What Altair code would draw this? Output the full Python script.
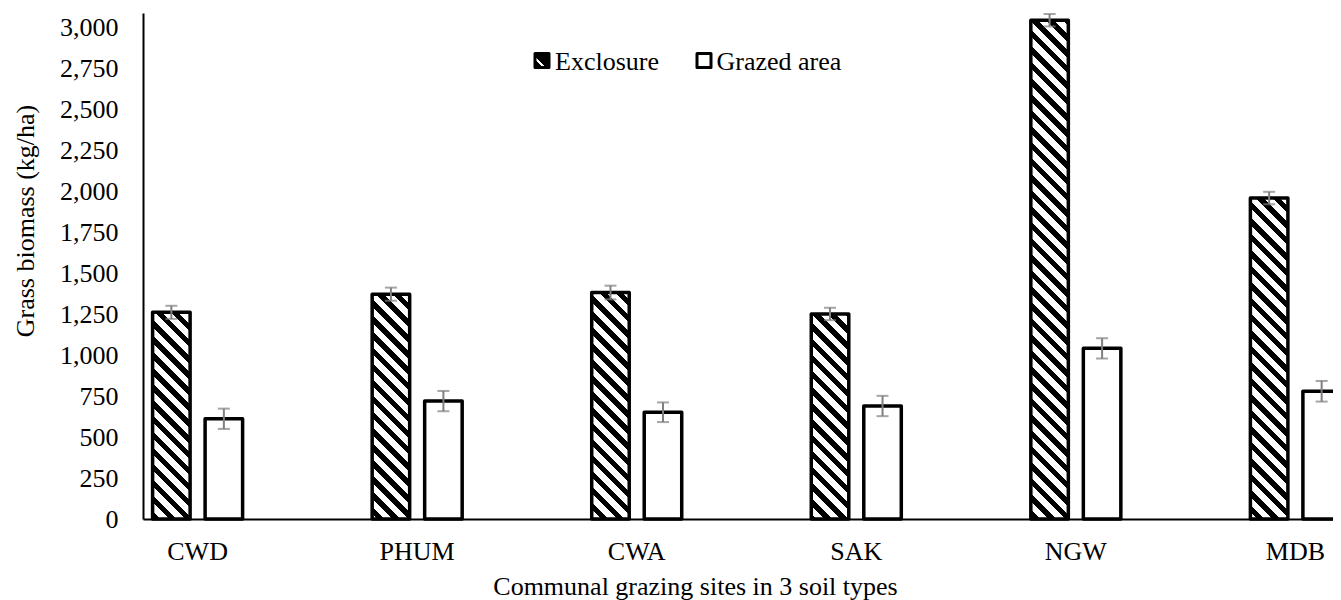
import math
import altair as alt
import pandas as pd

# ---------------- data ----------------
sites = ["CWD", "PHUM", "CWA", "SAK", "NGW", "MDB"]
series_names = ["Exclosure", "Grazed area"]
exclosure = [1262, 1373, 1383, 1252, 3046, 1960]
grazed = [612, 720, 652, 690, 1042, 780]
exclosure_err = [40, 40, 42, 38, 38, 38]
grazed_err = [62, 62, 60, 62, 62, 63]
y_ticks = list(range(0, 3001, 250))

rows = []
for i, s in enumerate(sites):
    rows.append({"site": s, "series": "Exclosure", "value": exclosure[i], "err": exclosure_err[i]})
    rows.append({"site": s, "series": "Grazed area", "value": grazed[i], "err": grazed_err[i]})
df = pd.DataFrame(rows)
df["lo"] = df["value"] - df["err"]
df["hi"] = df["value"] + df["err"]

# ---------------- layout / style ----------------
PLOT_W = 1207
PLOT_H = 506
Y_MAX = 3090
PAD_IN = 0.59
PAD_OUT = 0.0437
SUB_PAD = 0.2857
FONT = "Liberation Serif"
FS = 26
ERR_COLOR = "#7f7f7f"
SVG_W = 1325  # page is 1341 wide with an 8px body margin on both sides

step = PLOT_W / (len(sites) - PAD_IN + 2 * PAD_OUT)
band = step * (1 - PAD_IN)
sub_step = band / (2 - SUB_PAD)
bar_w = sub_step * (1 - SUB_PAD)
k = PLOT_H / Y_MAX

PERIOD = 16.0
BLACK = 0.45


def hatch(w, h, offset):
    """Diagonal (\\) stripe fill built from a hard-stop linear gradient."""
    L = w + h

    def color_at(s):
        return "black" if ((s + offset) % PERIOD) < BLACK * PERIOD else "white"

    bounds = []
    n0 = math.floor(offset / PERIOD) - 1
    n1 = math.ceil((L + offset) / PERIOD) + 1
    for n in range(n0, n1 + 1):
        for b in (n * PERIOD, n * PERIOD + BLACK * PERIOD):
            s = b - offset
            if 0 < s < L:
                bounds.append(s)
    bounds.sort()
    cur = color_at(0)
    stops = [{"offset": 0, "color": cur}]
    for s in bounds:
        t = round(s / L, 5)
        stops.append({"offset": t, "color": cur})
        cur = color_at(s + 1e-6)
        stops.append({"offset": t, "color": cur})
    stops.append({"offset": 1, "color": cur})
    c = L / (w * w + h * h)
    return {"gradient": "linear", "x1": 0, "y1": 1,
            "x2": round(c * w, 6), "y2": round(1 - c * h, 6), "stops": stops}


x_enc = alt.X(
    "site:N", sort=sites,
    scale=alt.Scale(domain=sites, paddingInner=PAD_IN, paddingOuter=PAD_OUT),
    title="Communal grazing sites in 3 soil types",
    axis=alt.Axis(labelAngle=0, labelPadding=19, ticks=False, tickSize=0,
                  titleX=552, titleY=75, titleBaseline="alphabetic", titleAlign="center"),
)
xoff = alt.XOffset("series:N", sort=series_names,
                   scale=alt.Scale(domain=series_names, paddingInner=SUB_PAD, paddingOuter=0))

Y_TITLE = "Grass biomass (kg/ha)"


def y_of(field):
    return alt.Y(
        f"{field}:Q",
        scale=alt.Scale(domain=[0, Y_MAX], nice=False, zero=True),
        title=Y_TITLE,
        axis=alt.Axis(values=y_ticks, format=",.0f", labelPadding=25, ticks=False, tickSize=0,
                      titleX=-110, titleY=207.5, titleBaseline="alphabetic", titleAlign="center"),
    )


base = alt.Chart(df)
layers = []

# hatched exclosure bars
for i, s in enumerate(sites):
    x0 = step * PAD_OUT + i * step
    h = exclosure[i] * k
    grad = hatch(bar_w, h, x0 - PLOT_H)
    layers.append(
        base.transform_filter(f"datum.site == '{s}' && datum.series == 'Exclosure'")
        .mark_bar(fill=grad, stroke="black", strokeWidth=3.5, strokeJoin="round")
        .encode(x=x_enc, xOffset=xoff, y=y_of("value"))
    )

# grazed bars
layers.append(
    base.transform_filter("datum.series == 'Grazed area'")
    .mark_bar(fill="white", stroke="black", strokeWidth=3.5, strokeJoin="round")
    .encode(x=x_enc, xOffset=xoff, y=y_of("value"))
)

# error bars
layers.append(
    base.mark_rule(color=ERR_COLOR, strokeWidth=2)
    .encode(x=x_enc, xOffset=xoff, y=y_of("lo"), y2="hi:Q")
)
for fld in ("lo", "hi"):
    layers.append(
        base.mark_tick(color=ERR_COLOR, thickness=2, size=12)
        .encode(x=x_enc, xOffset=xoff, y=y_of(fld))
    )

# legend (inside plot, top centre)
legend_grad = {
    "gradient": "linear", "x1": 0, "y1": 1, "x2": 0.5, "y2": 0.5,
    "stops": [
        {"offset": 0, "color": "black"}, {"offset": 0.55, "color": "black"},
        {"offset": 0.55, "color": "white"}, {"offset": 0.8, "color": "white"},
        {"offset": 0.8, "color": "black"}, {"offset": 1, "color": "black"},
    ],
}
leg_ex = alt.Chart(pd.DataFrame({"label": [series_names[0]]}))
leg_gr = alt.Chart(pd.DataFrame({"label": [series_names[1]]}))
layers.append(
    leg_ex.mark_rect(fill=legend_grad, stroke="black", strokeWidth=3, strokeJoin="round")
    .encode(x=alt.value(392), x2=alt.value(406), y=alt.value(40.5), y2=alt.value(54.5))
)
layers.append(
    leg_gr.mark_rect(fill="white", stroke="black", strokeWidth=3, strokeJoin="round")
    .encode(x=alt.value(554), x2=alt.value(568), y=alt.value(40.5), y2=alt.value(54.5))
)
layers.append(
    leg_ex.mark_text(align="left", baseline="alphabetic", font=FONT, fontSize=FS, color="black")
    .encode(x=alt.value(412), y=alt.value(57), text="label:N")
)
layers.append(
    leg_gr.mark_text(align="left", baseline="alphabetic", font=FONT, fontSize=FS, color="black")
    .encode(x=alt.value(573.5), y=alt.value(57), text="label:N")
)

chart = (
    alt.layer(*layers)
    .properties(
        width=PLOT_W, height=PLOT_H,
        autosize=alt.AutoSizeParams(type="none"),
        padding={"left": 135, "top": 5, "right": SVG_W - 135 - PLOT_W, "bottom": 82},
        background="white",
    )
    .configure_view(stroke=None)
    .configure_text(font=FONT)
    .configure_axis(
        labelFont=FONT, titleFont=FONT, labelFontSize=FS, titleFontSize=FS,
        labelColor="black", titleColor="black", titleFontWeight="normal",
        grid=False, domainColor="black", domainWidth=2,
    )
)

chart.save("out.html", embed_options={"renderer": "svg", "actions": False})
